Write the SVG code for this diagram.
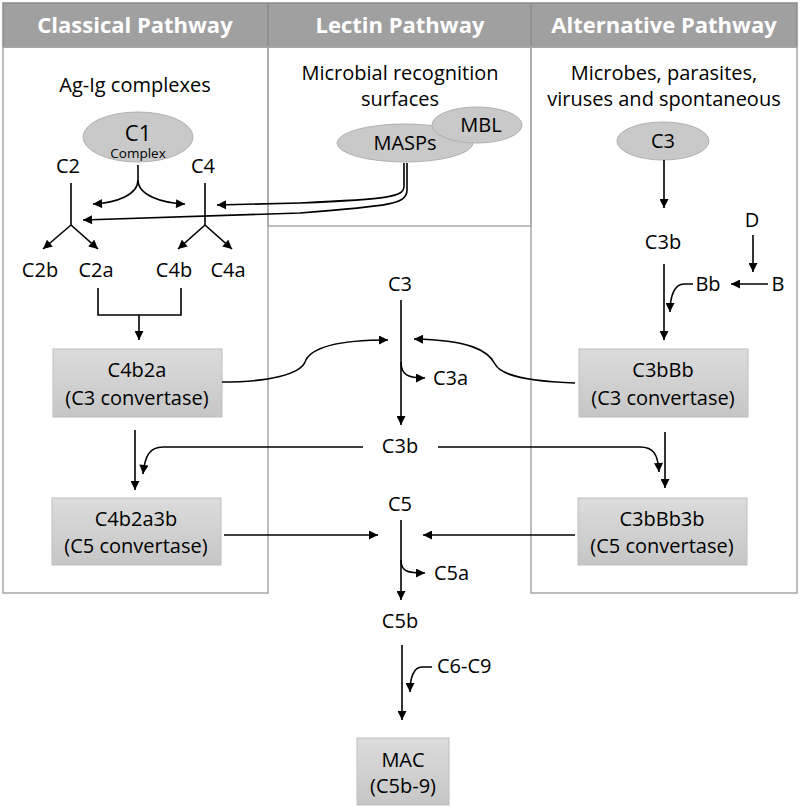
<svg xmlns="http://www.w3.org/2000/svg" width="800" height="809" viewBox="0 0 800 809">
<defs>
<marker id="ah" viewBox="0 0 10 10" refX="10" refY="5" markerWidth="10" markerHeight="9" orient="auto" markerUnits="userSpaceOnUse"><path d="M0,0 L10,5 L0,10 z" fill="#000"/></marker>
<linearGradient id="bg" x1="0" y1="0" x2="0" y2="1"><stop offset="0" stop-color="#dcdcdc"/><stop offset="1" stop-color="#c6c6c6"/></linearGradient>
<style>
text{font-family:"Open Sans",Lato,"Liberation Sans",sans-serif;fill:#000;text-anchor:middle;font-size:20px}
.h{font-weight:bold;fill:#fff;font-size:22px}
.l{text-anchor:start}
.s{font-size:13.5px}
.panel{fill:none;stroke:#a8a8a8;stroke-width:1.5}
.hdr{fill:#a0a0a0;stroke:#8c8c8c;stroke-width:1.5}
.ell{fill:#c9c9c9;stroke:#b0b0b0;stroke-width:1}
.box{fill:url(#bg);stroke:#bdbdbd;stroke-width:1}
.c path{fill:none;stroke:#000;stroke-width:1.6}
.c .m{marker-end:url(#ah)}
</style>
</defs>
<g id="panels">
<rect class="hdr" x="3" y="3" width="794" height="44"/>
<line x1="268" y1="3" x2="268" y2="47" stroke="#8c8c8c" stroke-width="1.5"/>
<line x1="531" y1="3" x2="531" y2="47" stroke="#8c8c8c" stroke-width="1.5"/>
<text class="h" x="135" y="33">Classical Pathway</text>
<text class="h" x="400" y="33">Lectin Pathway</text>
<text class="h" x="664" y="33">Alternative Pathway</text>
<rect class="panel" x="3" y="47" width="265" height="546"/>
<rect class="panel" x="268" y="47" width="263" height="179"/>
<rect class="panel" x="531" y="47" width="266" height="546"/>
</g>
<g id="classical-source"><text x="135" y="92">Ag-Ig complexes</text></g>
<g id="lectin-source"><text x="400" y="80">Microbial recognition</text><text x="400" y="106">surfaces</text></g>
<g id="alt-source"><text x="664" y="80">Microbes, parasites,</text><text x="664" y="106">viruses and spontaneous</text></g>
<g id="c1"><ellipse class="ell" cx="138" cy="137" rx="55" ry="25"/><text x="138" y="141" style="font-size:22px">C1</text><text class="s" x="138" y="158">Complex</text></g>
<g id="masps"><ellipse class="ell" cx="405" cy="143" rx="68" ry="19"/><text x="405" y="150">MASPs</text></g>
<g id="mbl"><ellipse class="ell" cx="477" cy="125" rx="45" ry="18"/><text x="481" y="132">MBL</text></g>
<g id="alt-c3"><ellipse class="ell" cx="663" cy="141" rx="46" ry="19"/><text x="663" y="148">C3</text></g>
<g id="c2"><text x="68" y="173">C2</text></g>
<g id="c4"><text x="203" y="173">C4</text></g>
<g id="c2b"><text x="40" y="277">C2b</text></g>
<g id="c2a"><text x="96" y="277">C2a</text></g>
<g id="c4b"><text x="174" y="277">C4b</text></g>
<g id="c4a"><text x="228" y="277">C4a</text></g>
<g id="c4b2a"><rect class="box" x="53" y="349" width="169" height="68"/><text x="137" y="377">C4b2a</text><text x="137" y="405">(C3 convertase)</text></g>
<g id="c4b2a3b"><rect class="box" x="52" y="498" width="169" height="67"/><text x="136" y="526">C4b2a3b</text><text x="136" y="553">(C5 convertase)</text></g>
<g id="c3bbb"><rect class="box" x="579" y="349" width="169" height="68"/><text x="663" y="377">C3bBb</text><text x="663" y="405">(C3 convertase)</text></g>
<g id="c3bbb3b"><rect class="box" x="578" y="498" width="169" height="67"/><text x="662" y="526">C3bBb3b</text><text x="662" y="553">(C5 convertase)</text></g>
<g id="alt-c3b"><text x="663" y="249">C3b</text></g>
<g id="d"><text x="752" y="227">D</text></g>
<g id="b"><text x="778" y="291">B</text></g>
<g id="bb"><text x="708" y="291">Bb</text></g>
<g id="c3"><text x="400" y="291">C3</text></g>
<g id="c3a"><text class="l" x="433" y="385">C3a</text></g>
<g id="c3b"><text x="400" y="453">C3b</text></g>
<g id="c5"><text x="400" y="511">C5</text></g>
<g id="c5a"><text class="l" x="434" y="580">C5a</text></g>
<g id="c5b"><text x="400" y="628">C5b</text></g>
<g id="c6c9"><text class="l" x="437" y="673">C6-C9</text></g>
<g id="mac"><rect class="box" x="357" y="738" width="92" height="67"/><text x="403" y="767">MAC</text><text x="403" y="793">(C5b-9)</text></g>
<g id="connectors" class="c">
<path d="M138,165 V180"/>
<path class="m" d="M138,180 C138,195 116,203 93,204"/>
<path class="m" d="M138,180 C138,195 161,203 185,204"/>
<path d="M71,183 V225"/>
<path class="m" d="M71,225 L43,249"/>
<path class="m" d="M71,225 L98,249"/>
<path d="M205,183 V225"/>
<path class="m" d="M205,225 L178,249"/>
<path class="m" d="M205,225 L232,249"/>
<path class="m" d="M404,163 V186 C404,197 390,199 300,203 L217,205"/>
<path class="m" d="M407,163 V190 C407,204 390,206 300,213 L83,220"/>
<path d="M98,288 V315 H181 V288"/>
<path class="m" d="M139,315 V340"/>
<path class="m" d="M222,382 C270,382 300,374 305,362 C310,348 335,340 388,340"/>
<path class="m" d="M575,383 C520,381 500,374 495,364 C488,350 468,340 414,339"/>
<path class="m" d="M401,300 V425"/>
<path class="m" d="M401,362 C401,375 408,378 425,378"/>
<path class="m" d="M135,430 V490"/>
<path class="m" d="M363,447 H163 C150,447 145,455 143,474"/>
<path class="m" d="M438,447 H640 C654,447 658,455 659,472"/>
<path class="m" d="M665,432 V488"/>
<path class="m" d="M224,535 H378"/>
<path class="m" d="M575,535 H423"/>
<path class="m" d="M401,520 V600"/>
<path class="m" d="M401,560 C401,572 408,573 425,573"/>
<path class="m" d="M402,645 V720"/>
<path class="m" d="M432,667 H422 C414,667 410,677 410,692"/>
<path class="m" d="M664,160 V208"/>
<path class="m" d="M664,264 V340"/>
<path class="m" d="M753,235 V272"/>
<path class="m" d="M768,284 H731"/>
<path class="m" d="M693,284 H684 C675,284 670,295 670,312"/>
</g>
</svg>
